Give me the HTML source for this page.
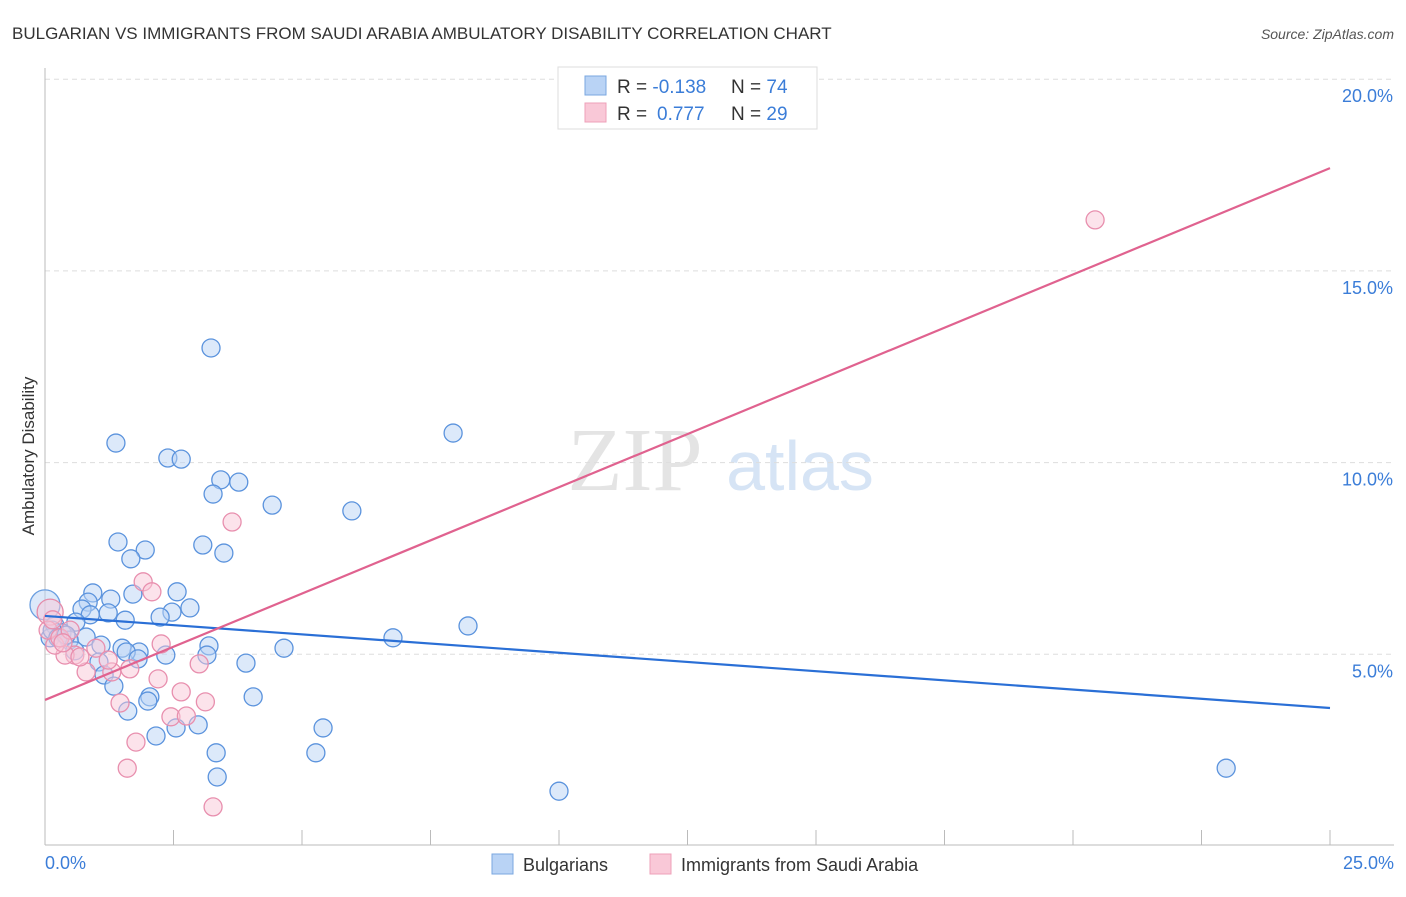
<!DOCTYPE html>
<html><head><meta charset="utf-8"><style>
body{margin:0;background:#fff;font-family:"Liberation Sans",sans-serif}
</style></head><body>
<svg width="1406" height="892" viewBox="0 0 1406 892" xmlns="http://www.w3.org/2000/svg" font-family="Liberation Sans, sans-serif">
<text x="12" y="39" font-size="17" fill="#333">BULGARIAN VS IMMIGRANTS FROM SAUDI ARABIA AMBULATORY DISABILITY CORRELATION CHART</text>
<text x="1394" y="39" font-size="14" fill="#555" font-style="italic" text-anchor="end">Source: ZipAtlas.com</text>
<text x="635" y="490" font-size="90" fill="#e4e4e4" font-family="Liberation Serif, serif" text-anchor="middle">ZIP</text>
<text x="800" y="490" font-size="70" fill="#d6e4f5" text-anchor="middle">atlas</text>
<g id="grid"></g>
<line x1="45" y1="68" x2="45" y2="845" stroke="#bbb"/>
<line x1="45" y1="845" x2="1394" y2="845" stroke="#bbb"/>
<g id="ticks"></g>
<text transform="translate(34,456) rotate(-90)" font-size="17" fill="#333" text-anchor="middle">Ambulatory Disability</text>
<text x="45" y="869" font-size="18" fill="#3b7dd8">0.0%</text>
<text x="1394" y="869" font-size="18" fill="#3b7dd8" text-anchor="end">25.0%</text>
<g id="pts"></g>
<g id="lines"></g>
<g>
<rect x="558" y="67" width="259" height="62" fill="#fff" stroke="#ddd"/>
<rect x="585" y="76" width="21" height="19" fill="#b9d3f5" stroke="#7aa7e0"/>
<rect x="585" y="103" width="21" height="19" fill="#f9c8d7" stroke="#eea0b8"/>
<text x="617" y="93" font-size="19" fill="#333">R = <tspan fill="#3b7dd8">-0.138</tspan><tspan x="731">N = </tspan><tspan fill="#3b7dd8">74</tspan></text>
<text x="617" y="120" font-size="19" fill="#333">R = <tspan fill="#3b7dd8" x="657">0.777</tspan><tspan x="731">N = </tspan><tspan fill="#3b7dd8">29</tspan></text>
</g>
<g>
<rect x="492" y="854" width="21" height="20" fill="#b9d3f5" stroke="#7aa7e0"/>
<text x="523" y="871" font-size="18" fill="#333">Bulgarians</text>
<rect x="650" y="854" width="21" height="20" fill="#f9c8d7" stroke="#eea0b8"/>
<text x="681" y="871" font-size="18" fill="#333">Immigrants from Saudi Arabia</text>
</g>
</svg>
<script>
const yTicks=[5,10,15,20];
const yTickLabels=["5.0%","10.0%","15.0%","20.0%"];
const xTicks=[0,2.5,5,7.5,10,12.5,15,17.5,20,22.5,25];
const blueX=[3.23,1.38,7.94,2.39,2.65,3.42,3.77,3.27,4.42,5.97,1.42,1.95,3.07,3.48,1.67,0.93,2.57,1.71,1.28,0.84,2.82,0.72,2.47,1.23,0.88,2.24,1.56,0.60,0.19,8.23,0.33,0.80,6.77,0.10,0.47,1.09,3.19,4.65,1.50,0.58,1.83,1.58,3.15,2.35,1.81,1.05,3.91,1.15,1.34,2.04,2.00,4.05,1.61,5.41,2.98,2.55,2.16,3.33,5.27,3.35,10.0,22.98,0.14,0.25,0.41];
const blueY=[12.99,10.51,10.77,10.12,10.09,9.55,9.49,9.18,8.89,8.74,7.93,7.72,7.85,7.64,7.49,6.60,6.63,6.57,6.44,6.36,6.21,6.18,6.10,6.08,6.03,5.97,5.89,5.84,5.76,5.74,5.56,5.45,5.43,5.43,5.37,5.24,5.22,5.16,5.16,5.09,5.06,5.06,4.98,4.98,4.88,4.80,4.77,4.46,4.17,3.89,3.78,3.89,3.52,3.08,3.16,3.08,2.87,2.43,2.43,1.80,1.43,2.03,5.63,5.43,5.50];
const pinkX=[20.43,3.64,1.91,2.08,2.26,3.0,2.20,2.65,3.12,2.45,2.75,1.46,1.77,1.60,3.27,1.65,1.30,0.99,0.80,0.58,0.39,0.68,0.19,0.06,0.29,1.23,0.49,0.15,0.35];
const pinkY=[16.33,8.45,6.89,6.63,5.27,4.75,4.36,4.02,3.76,3.37,3.39,3.73,2.71,2.03,1.02,4.62,4.54,5.16,4.54,4.98,4.98,4.93,5.24,5.63,5.43,4.85,5.63,5.9,5.3];
const blueBig=[0,6.29], pinkBig=[0.1,6.1];
const blueTrend=[6.0,3.6], pinkTrend=[3.81,17.68];
const X=v=>45+v/25*1285, Y=v=>846-v/5*191.7;
const NS="http://www.w3.org/2000/svg";
function mk(t,a,p){const e=document.createElementNS(NS,t);for(const k in a)e.setAttribute(k,a[k]);document.getElementById(p).appendChild(e);return e;}
yTicks.forEach((t,i)=>{
 const g=mk('line',{x1:45,x2:1394,y1:Y(t),y2:Y(t),stroke:'#ddd','stroke-dasharray':'5,4'},'grid');
 
 
 const l=mk('text',{x:1393,y:Y(t)+23,'font-size':18,fill:'#3b7dd8','text-anchor':'end'},'grid');
 l.textContent=yTickLabels[i];
 
 
});
xTicks.forEach(t=>{
 const e=mk('line',{x1:X(t),x2:X(t),y1:830,y2:845,stroke:'#bbb'},'ticks');
 
 
});
function pt(x,y,r,f,s){const c=mk('circle',{cx:X(x),cy:Y(y),r:r,fill:f,'fill-opacity':0.5,stroke:s,'stroke-width':1.3},'pts');return c;}
const bb=pt(blueBig[0],blueBig[1],15,'#b9d3f5','#6a9ee0');


blueX.forEach((x,i)=>{const c=pt(x,blueY[i],9,'#b9d3f5','#5b93dd');
 
 });
const pb=pt(pinkBig[0],pinkBig[1],13,'#f9c8d7','#e58aa8');


pinkX.forEach((x,i)=>{const c=pt(x,pinkY[i],9,'#f9c8d7','#e88fae');
 
 });
const bl=mk('line',{x1:X(0),y1:Y(blueTrend[0]),x2:X(25),y2:Y(blueTrend[1]),stroke:'#2a6fd6','stroke-width':2.2},'lines');


const pl=mk('line',{x1:X(0),y1:Y(pinkTrend[0]),x2:X(25),y2:Y(pinkTrend[1]),stroke:'#e0628f','stroke-width':2.2},'lines');


</script>
</body></html>
